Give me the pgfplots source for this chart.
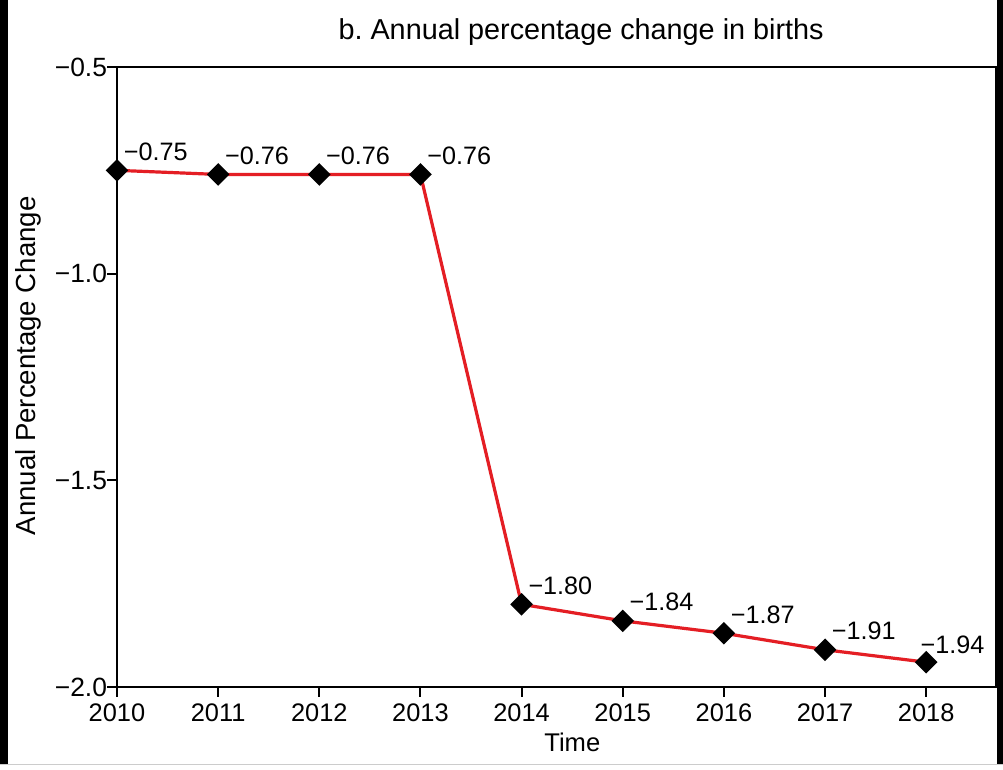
\documentclass[border=0pt]{standalone}
\usepackage{fontspec}
\setmainfont{Liberation Sans}
\usepackage{pgfplots}
\pgfplotsset{compat=1.18}
\usepackage{pgfplotstable}
\definecolor{lred}{RGB}{228,30,36}
\pgfplotstableread{
x y lab
2010 -0.75 −0.75
2011 -0.76 −0.76
2012 -0.76 −0.76
2013 -0.76 −0.76
2014 -1.80 −1.80
2015 -1.84 −1.84
2016 -1.87 −1.87
2017 -1.91 −1.91
}\labA
\pgfplotstableread{
x y lab
2018 -1.94 −1.94
}\labB
\pgfplotstableread{
x y
2010 -0.75
2011 -0.76
2012 -0.76
2013 -0.76
2014 -1.80
2015 -1.84
2016 -1.87
2017 -1.91
2018 -1.94
}\dataA
\frenchspacing
\begin{document}
\begin{tikzpicture}
\path[use as bounding box] (0,0) rectangle (501.5pt,385pt);
\fill[white] (0,0) rectangle (501.5pt,385pt);
\fill[black] (0,2.5pt) rectangle (4pt,385pt);
\fill[black] (498.5pt,2.5pt) rectangle (501.5pt,385pt);
\draw[black!20, line width=0.5pt] (0,2.5pt) -- (501.5pt,2.5pt);
\begin{axis}[
  at={(58.5pt,41.5pt)}, anchor=south west,
  scale only axis, width=439.5pt, height=310pt,
  xmin=2010, xmax=2018.69, ymin=-2, ymax=-0.5,
  clip=false,
  axis line style={line width=1pt},
  xtick={2010,2011,2012,2013,2014,2015,2016,2017,2018},
  xticklabels={2010,2011,2012,2013,2014,2015,2016,2017,2018},
  ytick={-2,-1.5,-1,-0.5},
  yticklabels={−2.0,−1.5,−1.0,−0.5},
  tick align=outside, tick pos=left, major tick length=5pt,
  tick style={line width=1pt, black},
  ticklabel style={font=\fontsize{12.7}{15}\selectfont},
  yticklabel style={xshift=3.5pt, font=\fontsize{13.2}{15}\selectfont},
  title={b.\ Annual percentage change in births},
  title style={at={(axis description cs:0.528,1.0242)}, anchor=base, font=\fontsize{14.4}{17}\selectfont},
  xlabel={Time},
  xlabel style={at={(axis description cs:0.518,-0.1048)}, anchor=base, font=\fontsize{12.8}{15}\selectfont},
  ylabel={Annual Percentage Change},
  ylabel style={at={(axis description cs:-0.1012,0.518)}, anchor=center, font=\fontsize{13.8}{16}\selectfont},
]
\addplot[lred, line width=1.6pt, mark=square*, mark size=3.2pt,
  mark options={rotate=45, black, fill=black, solid}] table[x=x,y=y] {\dataA};
\addplot[draw=none, mark=none, point meta=explicit symbolic, nodes near coords,
  nodes near coords style={anchor=base west, inner sep=0pt, xshift=3.25pt, yshift=5pt,
  font=\fontsize{12.6}{15}\selectfont, black}] table[x=x,y=y,meta=lab] {\labA};
\addplot[draw=none, mark=none, point meta=explicit symbolic, nodes near coords,
  nodes near coords style={anchor=base west, inner sep=0pt, xshift=-3pt, yshift=4.5pt,
  font=\fontsize{12.6}{15}\selectfont, black}] table[x=x,y=y,meta=lab] {\labB};
\end{axis}
\end{tikzpicture}
\end{document}
